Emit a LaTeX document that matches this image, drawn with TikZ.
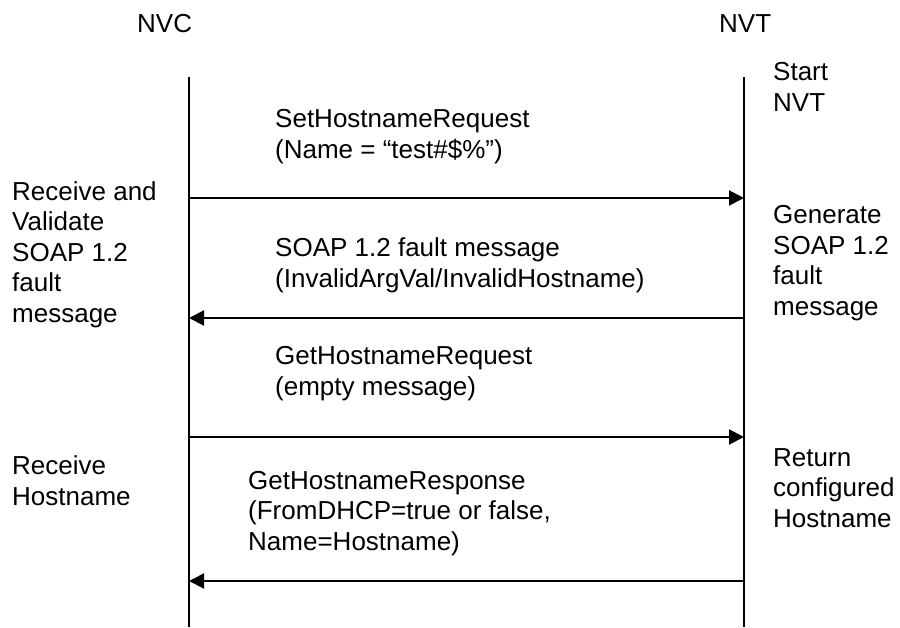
\documentclass[tikz,border=0pt]{standalone}
\usepackage{fontspec}
\setmainfont{Liberation Sans}
\usetikzlibrary{arrows.meta}

\begin{document}
\begin{tikzpicture}[x=1pt,y=-1pt,
    msg/.style={anchor=base west,inner sep=0pt,align=left,font=\fontsize{26}{30.5}\selectfont},
    life/.style={line width=2pt},
    call/.style={line width=2pt,-{Triangle[length=15pt,width=15pt]}}]
    \useasboundingbox (0,0) rectangle (900,627);
    \node[msg](nvc) at (137,32){NVC};
    \node[msg](nvt) at (719,32){NVT};
    % lifelines
    \coordinate (nvctop) at (189,77);
    \coordinate (nvcbot) at (189,627);
    \coordinate (nvttop) at (744,77);
    \coordinate (nvtbot) at (744,627);
    \draw[life](nvctop)--(nvcbot);
    \draw[life](nvttop)--(nvtbot);
    % message points on the lifelines
    \coordinate (c1) at (189,198); \coordinate (t1) at (744,198);
    \coordinate (c2) at (189,318); \coordinate (t2) at (744,318);
    \coordinate (c3) at (189,437); \coordinate (t3) at (744,437);
    \coordinate (c4) at (189,581); \coordinate (t4) at (744,581);
    \draw[call](c1)--(t1);
    \draw[call](t2)--(c2);
    \draw[call](c3)--(t3);
    \draw[call](t4)--(c4);
    % message labels (base = last line)
    \node[msg](setreq) at (275,158){SetHostnameRequest\\(Name = “test\#\$\%”)};
    \node[msg](fault) at (275,287){SOAP 1.2 fault message\\(InvalidArgVal/InvalidHostname)};
    \node[msg](getreq) at (275,395){GetHostnameRequest\\(empty message)};
    \node[msg](getresp) at (248,550){GetHostnameResponse\\(FromDHCP=true or false,\\Name=Hostname)};
    % actions
    \node[msg](start) at (773,111){Start\\NVT};
    \node[msg](validate) at (12,322){Receive and\\Validate\\SOAP 1.2\\fault\\message};
    \node[msg](generate) at (773,315){Generate\\SOAP 1.2\\fault\\message};
    \node[msg](recv) at (12,505){Receive\\Hostname};
    \node[msg](ret) at (773,527){Return\\configured\\Hostname};
\end{tikzpicture}
\end{document}
